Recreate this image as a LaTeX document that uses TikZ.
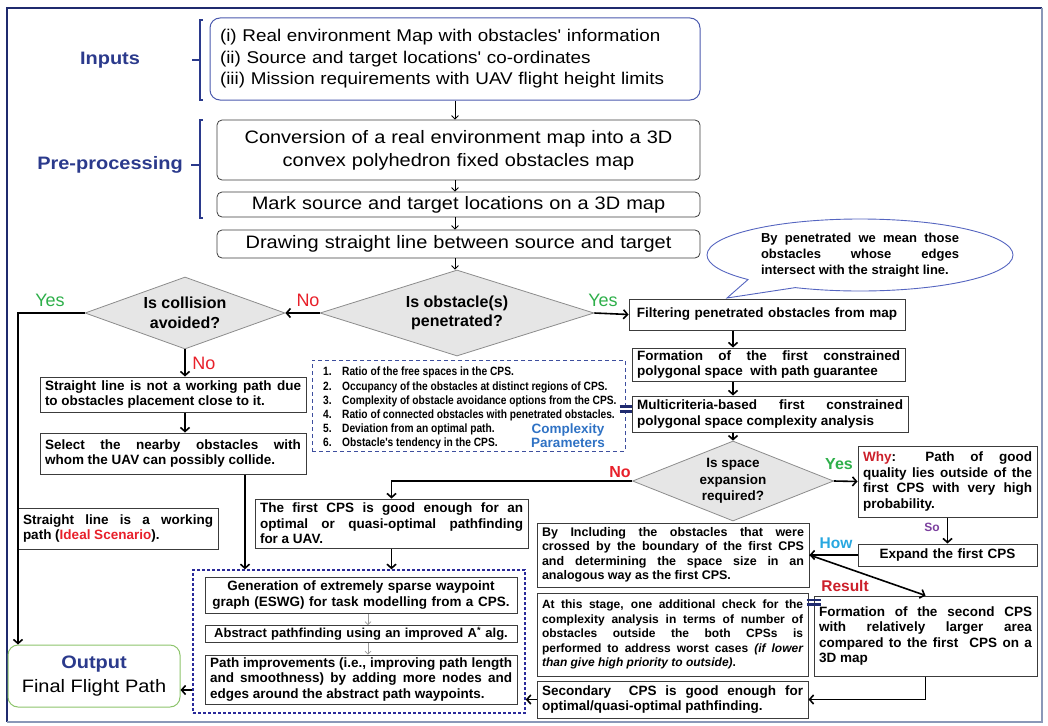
\documentclass[tikz,border=0pt]{standalone}
\usepackage{fontspec}
\setmainfont{Liberation Sans}
\newfontfamily\narrowfont[FakeStretch=0.85]{Liberation Sans}
\newfontfamily\widefont[FakeStretch=1.11]{Liberation Sans}
\usetikzlibrary{arrows.meta,shapes.geometric,shapes.callouts,calc}

\definecolor{framenavy}{HTML}{1F2A6E}
\definecolor{frameedge}{HTML}{8A98B8}
\definecolor{labelnavy}{HTML}{2B3A8C}
\definecolor{inputedge}{HTML}{4B5AAE}
\definecolor{boxedge}{HTML}{3C3C3C}
\definecolor{diamfill}{HTML}{E6E6E6}
\definecolor{diamedge}{HTML}{8C8C8C}
\definecolor{yesgreen}{HTML}{2EAF4A}
\definecolor{nored}{HTML}{E8202A}
\definecolor{whyred}{HTML}{CC1F2A}
\definecolor{sopurple}{HTML}{7B3F9E}
\definecolor{howblue}{HTML}{27A7E0}
\definecolor{paramblue}{HTML}{2F72C4}
\definecolor{paramedge}{HTML}{3D4E9E}
\definecolor{groupedge}{HTML}{2A2A9A}
\definecolor{outgreen}{HTML}{8DC46C}
\definecolor{bubbleedge}{HTML}{5565C0}
\definecolor{linkgrey}{HTML}{9A9A9A}

\newcommand\fsz[2]{\fontsize{#1}{#2}\selectfont}

\begin{document}
\begin{tikzpicture}[x=1pt,y=-1pt,
  every node/.style={inner sep=0pt},
  inbox/.style={draw=inputedge, line width=1pt, rounded corners=10pt, fill=white,
    align=left, inner xsep=10pt, font=\widefont\fsz{17}{21.5}},
  prebox/.style={draw=boxedge, line width=0.8pt, rounded corners=5pt, fill=white,
    align=center, inner xsep=5pt, font=\widefont\fsz{18}{23}},
  stepbox/.style={draw=boxedge, line width=1pt, fill=white, align=justify,
    inner xsep=5pt, font=\bfseries\fsz{13.5}{15.5}},
  decision/.style={diamond, draw=diamedge, line width=0.8pt, fill=diamfill,
    align=center, font=\bfseries\fsz{16}{19.5}},
  thinarrow/.style={draw=black, line width=0.8pt, -{Straight Barb[length=3.5pt,width=7pt]}},
  arrow/.style={draw=black, line width=1.6pt, -{Straight Barb[length=4pt,width=9pt]}},
  subarrow/.style={draw=linkgrey, line width=0.7pt, -{Straight Barb[length=3pt,width=6pt]}},
  bracket/.style={draw=labelnavy, line width=1.2pt},
  stagelabel/.style={font=\widefont\bfseries\fsz{18}{18}, text=labelnavy},
  answer/.style={font=\fsz{18}{18}},
  boldanswer/.style={font=\bfseries\fsz{16}{16}},
  joiner/.style={draw=framenavy, line width=2.2pt}
]
\useasboundingbox (0,0) rectangle (1048,725);

% outer frame
\draw[framenavy, line width=2pt] (7,722) -- (7,8) -- (1042,8);
\draw[frameedge, line width=1.5pt] (1042,8) -- (1042,722) -- (7,722);

% stage labels and brackets
\node[stagelabel] (lblin) at (110,60) {Inputs};
\node[stagelabel] (lblpre) at (110,165) {Pre-processing};
\draw[bracket] (203,20) -- (200,20) -- (200,100) -- (203,100);
\draw[bracket] (192,60) -- (200,60);
\draw[bracket] (203,120) -- (200,120) -- (200,218) -- (203,218);
\draw[bracket] (191,165) -- (200,165);

% inputs and pre-processing chain
\node[inbox, text width=470pt, minimum height=82pt] (inputs) at (455,59)
  {(i) Real environment Map with obstacles' information\\
   (ii) Source and target locations' co-ordinates\\
   (iii) Mission requirements with UAV flight height limits};
\node[prebox, text width=473pt, minimum height=60pt] (conv) at (458.5,150)
  {Conversion of a real environment map into a 3D\\convex polyhedron fixed obstacles map};
\node[prebox, text width=473pt, minimum height=25pt] (mark) at (458.5,204.5)
  {Mark source and target locations on a 3D map};
\node[prebox, text width=473pt, minimum height=28pt] (drawl) at (458.5,244)
  {Drawing straight line between source and target};

% decisions
\node[decision, aspect=3.2, minimum width=274pt, minimum height=86pt] (obst) at (457,313)
  {Is obstacle(s)\\penetrated?};
\node[decision, aspect=2.8, minimum width=200pt, minimum height=72pt] (coll) at (185,313)
  {Is collision\\avoided?};
\node[decision, aspect=2.5, minimum width=201pt, minimum height=80pt,
  font=\bfseries\fsz{13.5}{16.5}] (space) at (733,481)
  {Is space\\expansion\\required?};

% right-hand branch
\node[stepbox, align=center, text width=266pt, minimum height=31pt] (filter) at (767,314.5)
  {Filtering penetrated obstacles from map};
\node[stepbox, text width=263pt, minimum height=33pt] (form1) at (768.5,364.5)
  {Formation of the first constrained\linebreak polygonal space\ \ with path guarantee};
\node[stepbox, text width=266pt, minimum height=36pt] (multi) at (770,414)
  {Multicriteria-based first constrained\linebreak polygonal space complexity analysis};

% complexity parameters
\node[draw=paramedge, line width=1pt, dash pattern=on 4pt off 3pt,
  minimum width=313pt, minimum height=91pt] (cplx) at (468.5,405.5) {};
\node[anchor=north west, align=left, font=\narrowfont\bfseries\fsz{12}{14.2}] (cplist) at (323,367)
  {\makebox[19pt][l]{1.}Ratio of the free spaces in the CPS.\\
   \makebox[19pt][l]{2.}Occupancy of the obstacles at distinct regions of CPS.\\
   \makebox[19pt][l]{3.}Complexity of obstacle avoidance options from the CPS.\\
   \makebox[19pt][l]{4.}Ratio of connected obstacles with penetrated obstacles.\\
   \makebox[19pt][l]{5.}Deviation from an optimal path.\\
   \makebox[19pt][l]{6.}Obstacle's tendency in the CPS.};
\node[align=center, font=\bfseries\fsz{13.5}{14.2}, text=paramblue] (cplabel) at (568,436)
  {Complexity\\Parameters};

% space expansion branch
\node[stepbox, text width=169pt, minimum height=71pt] (why) at (947.5,481.5)
  {{\color{whyred}Why}: Path of good\linebreak quality lies outside of the\linebreak first CPS with very high\linebreak probability.};
\node[stepbox, align=center, text width=169pt, minimum height=22pt] (expand) at (947.5,555)
  {Expand the first CPS};
\node[stepbox, text width=262pt, minimum height=64pt, font=\bfseries\fsz{12.5}{14.5}] (byinc) at (673,555)
  {By Including the obstacles that were\linebreak crossed by the boundary of the first CPS\linebreak and determining the space size in an\linebreak analogous way as the first CPS.};
\node[stepbox, text width=213pt, minimum height=80pt] (form2) at (925.5,636)
  {Formation of the second CPS\linebreak with relatively larger area\linebreak compared to the first\ \ CPS on a\linebreak 3D map};
\node[stepbox, text width=261pt, minimum height=83pt, font=\bfseries\fsz{12}{14.5}] (atstage) at (672.5,634.5)
  {At this stage, one additional check for the\linebreak complexity analysis in terms of number of\linebreak obstacles outside the both CPSs is\linebreak performed to address worst cases \textit{(if lower\linebreak than give high priority to outside)}.};
\node[stepbox, text width=261pt, minimum height=37pt] (secondary) at (672.5,699.5)
  {Secondary\ \ CPS is good enough for\linebreak optimal/quasi-optimal pathfinding.};

% no-expansion branch
\node[stepbox, text width=263pt, minimum height=49pt] (firstcps) at (391.5,523.5)
  {The first CPS is good enough for an\linebreak optimal or quasi-optimal pathfinding\linebreak for a UAV.};

% collision branch
\node[stepbox, text width=256pt, minimum height=35pt] (slnot) at (173,394.5)
  {Straight line is not a working path due\linebreak to obstacles placement close to it.};
\node[stepbox, text width=256pt, minimum height=41pt] (select) at (173,453.5)
  {Select the nearby obstacles with\linebreak whom the UAV can possibly collide.};
\node[stepbox, text width=190pt, minimum height=41pt] (slwork) at (118,528.5)
  {Straight line is a working\linebreak path ({\color{nored}Ideal Scenario}).};

% path planning group
\node[draw=groupedge, line width=1.5pt, dash pattern=on 3pt off 2pt,
  minimum width=332pt, minimum height=143pt] (group) at (359,641.5) {};
\node[stepbox, align=center, text width=302pt, minimum height=36pt] (eswg) at (361,595)
  {Generation of extremely sparse waypoint\\graph (ESWG) for task modelling from a CPS.};
\node[stepbox, align=center, text width=302pt, minimum height=17pt,
  font=\bfseries\fsz{13}{15}] (astar) at (361,634)
  {Abstract pathfinding using an improved A\textsuperscript{*} alg.};
\node[stepbox, text width=302pt, minimum height=49pt] (pathimp) at (361,679.5)
  {Path improvements (i.e., improving path length\linebreak and smoothness) by adding more nodes and\linebreak edges around the abstract path waypoints.};

% output
\node[draw=outgreen, line width=1pt, rounded corners=10pt, fill=white,
  minimum width=172pt, minimum height=62pt, align=center, font=\widefont\fsz{18}{24}] (output) at (94,676)
  {{\bfseries\color{labelnavy}Output}\\Final Flight Path};

% explanation bubble
\coordinate (bubtip) at (727,298);
\node[ellipse callout, draw=bubbleedge, line width=0.9pt, fill=white,
  minimum width=306pt, minimum height=72pt, callout absolute pointer={(bubtip)},
  callout pointer arc=22, text width=198pt, align=justify,
  font=\bfseries\fsz{13}{16}] (bubble) at (860,255)
  {By penetrated we mean those\linebreak obstacles whose edges\linebreak intersect with the straight line.};

% connectors: pre-processing chain
\draw[thinarrow] (inputs.south) -- (inputs.south |- conv.north);
\draw[thinarrow] (conv.south -| inputs.south) -- (mark.north -| inputs.south);
\draw[thinarrow] (mark.south -| inputs.south) -- (drawl.north -| inputs.south);
\draw[thinarrow] (drawl.south -| inputs.south) -- (obst.north -| inputs.south);

% connectors: decisions
\draw[arrow] (obst.west) -- (coll.east);
\draw[arrow] (obst.east) -- (filter.west);
\draw[arrow] (coll.south) -- (coll.south |- slnot.north);
\draw[arrow] (slnot.south -| coll.south) -- (select.north -| coll.south);
\coordinate (yesturn) at (18,313);
\draw[arrow] (coll.west) -- (yesturn) -- (yesturn |- output.north);
\draw[arrow] ([xshift=72pt]select.south) -- ([xshift=72pt]select.south |- group.north);

% connectors: right branch
\draw[arrow] (filter.south -| space.north) -- (form1.north -| space.north);
\draw[arrow] (form1.south -| space.north) -- (multi.north -| space.north);
\draw[arrow] (multi.south -| space.north) -- (space.north);
\draw[arrow] (space.east) -- (why.west);
\draw[arrow] (space.west) -| (firstcps.north);
\draw[arrow] (firstcps.south) -- (firstcps.south |- group.north);
\draw[arrow] (why.south) -- (expand.north);
\draw[arrow] (expand.west) -- (byinc.east);
\draw[arrow] (byinc.east) -- (form2.north);
\draw[arrow] (form2.south) |- (secondary.east);
\draw[arrow] (secondary.west) -- (secondary.west -| group.east);
\draw[arrow] ([yshift=-48.5pt]group.west) -- ([yshift=-48.5pt]group.west -| output.east);

% connectors inside the group
\draw[subarrow] ([xshift=7pt]eswg.south) -- ([xshift=7pt]astar.north);
\draw[subarrow] ([xshift=7pt]astar.south) -- ([xshift=7pt]pathimp.north);

% joiners between adjacent boxes
\draw[joiner] ($(multi.west)+(-12,-7.5)$) -- ($(multi.west)+(0,-7.5)$);
\draw[joiner] ($(multi.west)+(-12,-2.5)$) -- ($(multi.west)+(0,-2.5)$);
\draw[joiner] ($(atstage.east)+(-2,-34.5)$) -- ($(atstage.east)+(12,-34.5)$);
\draw[joiner] ($(atstage.east)+(-2,-30)$) -- ($(atstage.east)+(12,-30)$);

% branch labels
\node[answer, text=yesgreen] (yes1) at (50,300) {Yes};
\node[answer, text=nored] (no1) at (308,300) {No};
\node[answer, text=yesgreen] (yes2) at (603,300) {Yes};
\node[answer, text=nored] (no2) at (204,363) {No};
\node[boldanswer, text=nored] (no3) at (620,472) {No};
\node[boldanswer, text=yesgreen] (yes3) at (839,464) {Yes};
\node[font=\bfseries\fsz{12}{12}, text=sopurple] (so) at (932,527) {So};
\node[font=\bfseries\fsz{15.5}{15.5}, text=howblue] (how) at (836,543) {How};
\node[font=\bfseries\fsz{15.5}{15.5}, text=whyred] (result) at (845,586) {Result};
\end{tikzpicture}
\end{document}
